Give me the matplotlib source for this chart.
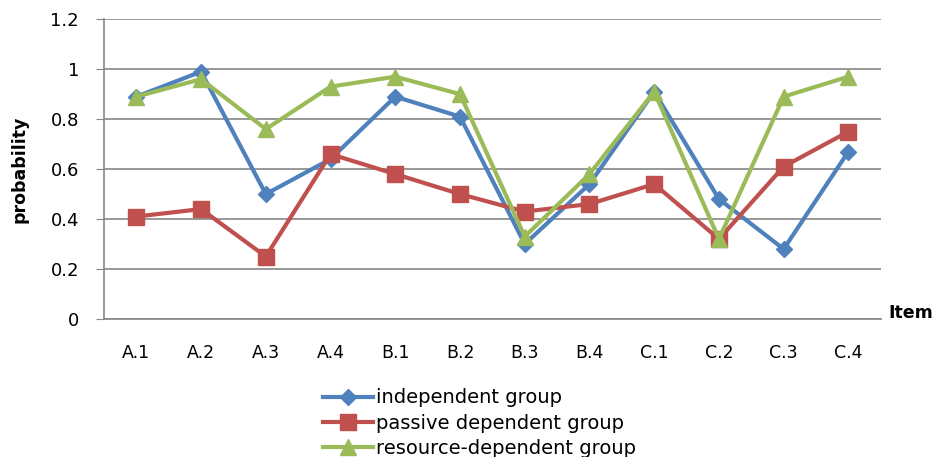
import matplotlib
matplotlib.use("Agg")
import matplotlib.pyplot as plt

items = ["A.1", "A.2", "A.3", "A.4", "B.1", "B.2", "B.3", "B.4", "C.1", "C.2", "C.3", "C.4"]
independent = [0.89, 0.99, 0.50, 0.64, 0.89, 0.81, 0.30, 0.54, 0.91, 0.48, 0.28, 0.67]
passive_dependent = [0.41, 0.44, 0.25, 0.66, 0.58, 0.50, 0.43, 0.46, 0.54, 0.32, 0.61, 0.75]
resource_dependent = [0.89, 0.96, 0.76, 0.93, 0.97, 0.90, 0.33, 0.58, 0.91, 0.32, 0.89, 0.97]
y_ticks = [0, 0.2, 0.4, 0.6, 0.8, 1.0, 1.2]
y_tick_labels = ["0", "0.2", "0.4", "0.6", "0.8", "1", "1.2"]

series = [
    ("independent group", independent, "#4F81BD", "D", 8),
    ("passive dependent group", passive_dependent, "#C0504D", "s", 11),
    ("resource-dependent group", resource_dependent, "#9BBB59", "^", 11),
]

fig = plt.figure(figsize=(9.41, 4.57), dpi=100)
ax = fig.add_axes([0.1105, 0.302, 0.8255, 0.656])

x = list(range(len(items)))
handles = []
for label, vals, color, marker, ms in series:
    (h,) = ax.plot(x, vals, color=color, lw=3, marker=marker, ms=ms,
                   markeredgecolor=color, label=label, zorder=3)
    handles.append(h)

ax.set_xlim(-0.5, len(items) - 0.5)
ax.set_ylim(0, 1.2)
ax.set_yticks(y_ticks)
ax.set_yticklabels(y_tick_labels, fontsize=13)
ax.set_xticks(x)
ax.set_xticklabels(items, fontsize=12.5)
ax.tick_params(axis="x", length=0, pad=18)
ax.tick_params(axis="y", length=6, color="#868686", pad=12)
ax.yaxis.grid(True, color="#868686", lw=1.2)
ax.set_axisbelow(True)
for side in ("top", "right"):
    ax.spines[side].set_visible(False)
for side in ("left", "bottom"):
    ax.spines[side].set_color("#868686")
    ax.spines[side].set_linewidth(1.2)

ax.set_ylabel("probability", fontsize=12.5, fontweight="bold", labelpad=16)
fig.text(0.944, 0.316, "Item", fontsize=12.5, fontweight="bold", ha="left", va="center")

fig.legend(handles=handles, loc="upper left", bbox_to_anchor=(0.343, 0.150),
           frameon=False, fontsize=14, handlelength=2.6, handletextpad=0.15,
           labelspacing=0.32, borderaxespad=0, borderpad=0)

fig.savefig("out.png", dpi=100)
